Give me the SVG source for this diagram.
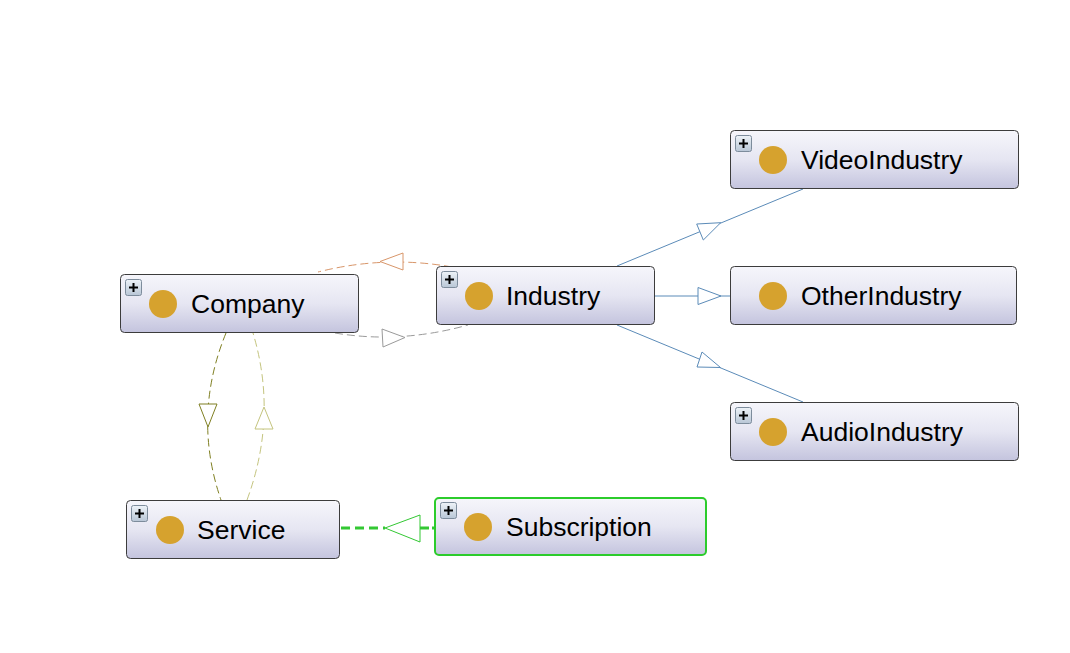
<svg xmlns="http://www.w3.org/2000/svg" width="1070" height="653" viewBox="0 0 1070 653">
<defs>
<linearGradient id="ng" x1="0" y1="0" x2="0" y2="1">
<stop offset="0" stop-color="#f6f6fb"/>
<stop offset="0.5" stop-color="#e6e6f2"/>
<stop offset="1" stop-color="#c4c4de"/>
</linearGradient>
<linearGradient id="pg" x1="0" y1="0" x2="0" y2="1">
<stop offset="0" stop-color="#eef3f8"/>
<stop offset="1" stop-color="#b8c6d6"/>
</linearGradient>
<g id="plus">
<rect x="0.5" y="0.5" width="16" height="16" rx="2" fill="url(#pg)" stroke="#7d8c9c" stroke-width="1"/>
<path d="M4 8.5H13M8.5 4V13" stroke="#000" stroke-width="2"/>
</g>
</defs>
<style>
.node{fill:url(#ng);stroke:#3c3c3c;stroke-width:1}
.sel{fill:url(#ng);stroke:#2ccc2c;stroke-width:2}
.dot{fill:#d6a22e}
.lbl{font-family:"Liberation Sans",Arial,sans-serif;font-size:26.5px;fill:#000}
.edge{fill:none}
.arr{fill:#fff}
</style>
<rect width="1070" height="653" fill="#fff"/>
<g id="connectors">
<path class="edge" d="M452 267 Q385 255 318 272" stroke="#d8966a" stroke-width="1" stroke-dasharray="8,4"/>
<polygon class="arr" points="380,261.5 403,253 403,270" stroke="#d8966a" stroke-width="1"/>
<path class="edge" d="M335 333 Q400 344 468 325" stroke="#9a9a9a" stroke-width="1" stroke-dasharray="8,4"/>
<polygon class="arr" points="405,337.5 382,329 383,347" stroke="#9a9a9a" stroke-width="1"/>
<path class="edge" d="M226 333 Q192 416 221 500" stroke="#7f7f22" stroke-width="1" stroke-dasharray="8,4"/>
<polygon class="arr" points="199,404 217,404 208,427" stroke="#7f7f22" stroke-width="1"/>
<path class="edge" d="M247 500 Q278 416 253 333" stroke="#c4c47e" stroke-width="1" stroke-dasharray="8,4"/>
<polygon class="arr" points="264,407 255,429 273,429" stroke="#c4c47e" stroke-width="1"/>
<path class="edge" d="M341 528 H385" stroke="#33c833" stroke-width="3" stroke-dasharray="9,5"/>
<path class="edge" d="M420 528 H434" stroke="#33c833" stroke-width="3" stroke-dasharray="9,3"/>
<polygon class="arr" points="385,528 420,515 420,542" stroke="#33c833" stroke-width="1"/>
<path class="edge" d="M617 266 L803 189" stroke="#5b8bb8" stroke-width="1"/>
<polygon class="arr" points="720.7,222.7 696.7,224 703.3,240" stroke="#5b8bb8" stroke-width="1"/>
<path class="edge" d="M655 296 L730 296" stroke="#5b8bb8" stroke-width="1"/>
<polygon class="arr" points="721,296 698,287.5 698,304.5" stroke="#5b8bb8" stroke-width="1"/>
<path class="edge" d="M617 325 L803 402" stroke="#5b8bb8" stroke-width="1"/>
<polygon class="arr" points="720.5,367.5 697,367 702,352" stroke="#5b8bb8" stroke-width="1"/>
</g>
<g id="node-company">
<rect class="node" x="120.5" y="274.5" width="238" height="58" rx="4"/>
<use href="#plus" x="125" y="279"/>
<circle class="dot" cx="163" cy="304" r="14"/>
<text class="lbl" x="191" y="313">Company</text>
</g>
<g id="node-industry">
<rect class="node" x="436.5" y="266.5" width="218" height="58" rx="4"/>
<use href="#plus" x="441" y="271"/>
<circle class="dot" cx="479" cy="296" r="14"/>
<text class="lbl" x="506" y="305">Industry</text>
</g>
<g id="node-videoindustry">
<rect class="node" x="730.5" y="130.5" width="288" height="58" rx="4"/>
<use href="#plus" x="735" y="135"/>
<circle class="dot" cx="773" cy="160" r="14"/>
<text class="lbl" x="801" y="169">VideoIndustry</text>
</g>
<g id="node-otherindustry">
<rect class="node" x="730.5" y="266.5" width="286" height="58" rx="4"/>
<circle class="dot" cx="773" cy="296" r="14"/>
<text class="lbl" x="801" y="305">OtherIndustry</text>
</g>
<g id="node-audioindustry">
<rect class="node" x="730.5" y="402.5" width="288" height="58" rx="4"/>
<use href="#plus" x="735" y="407"/>
<circle class="dot" cx="773" cy="432" r="14"/>
<text class="lbl" x="801" y="441">AudioIndustry</text>
</g>
<g id="node-service">
<rect class="node" x="126.5" y="500.5" width="213" height="58" rx="4"/>
<use href="#plus" x="131" y="505"/>
<circle class="dot" cx="170" cy="530" r="14"/>
<text class="lbl" x="197" y="539">Service</text>
</g>
<g id="node-subscription">
<rect class="sel" x="435" y="498" width="271" height="57" rx="4"/>
<use href="#plus" x="440" y="502"/>
<circle class="dot" cx="478" cy="527" r="14"/>
<text class="lbl" x="506" y="536">Subscription</text>
</g>
</svg>
